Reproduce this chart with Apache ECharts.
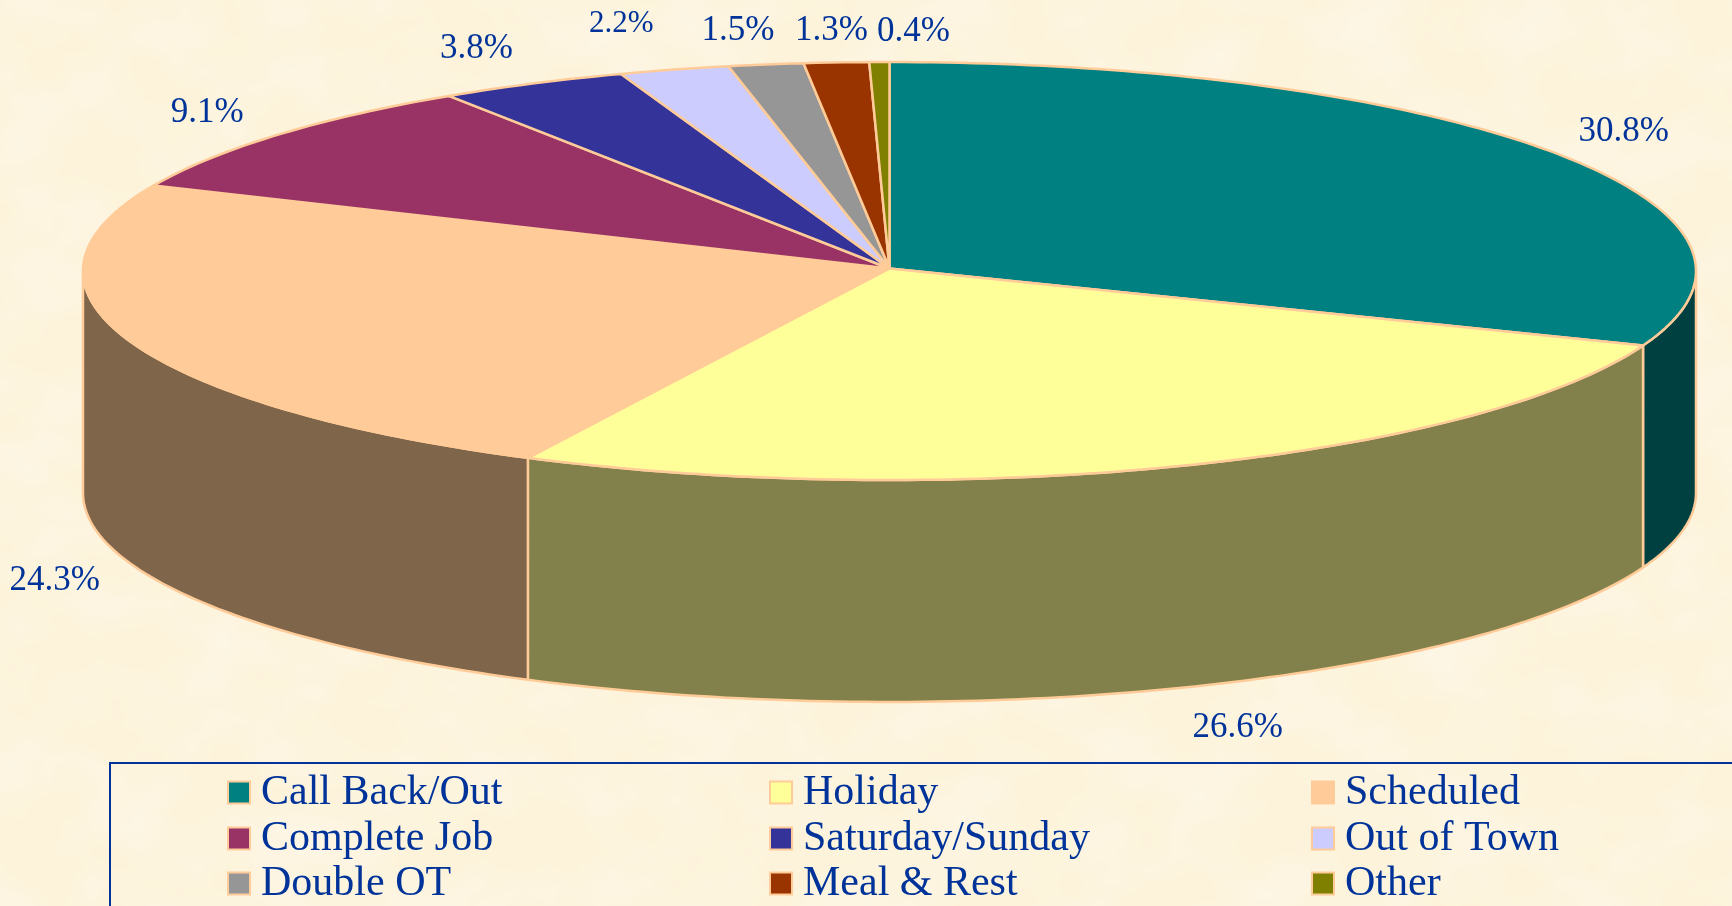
<!DOCTYPE html>
<html>
<head>
<meta charset="utf-8">
<title>Overtime by type</title>
<script src="https://cdn.jsdelivr.net/npm/echarts@6/dist/echarts.min.js"></script>
<style>
  html, body { margin: 0; padding: 0; background-color: #fdf3da; }
  #bg { position: absolute; left: 0; top: 0; width: 1732px; height: 906px; }
  #myChart { position: absolute; left: 0; top: 0; width: 1732px; height: 906px; }
</style>
</head>
<body>
<!-- mottled paper look of the slide background -->
<svg id="bg" xmlns="http://www.w3.org/2000/svg">
  <filter id="paper" x="0" y="0" width="100%" height="100%">
    <feTurbulence type="fractalNoise" baseFrequency="0.012 0.016" numOctaves="3" seed="7"/>
    <feColorMatrix type="matrix" values="0 0 0 0 0.99  0 0 0 0 0.95  0 0 0 0 0.88  0.9 0 0 0 -0.3"/>
  </filter>
  <rect width="1732" height="906" fill="#fdf3da"/>
  <rect width="1732" height="906" filter="url(#paper)"/>
</svg>
<div id="myChart"></div>
<script>
const categories = ['Call Back/Out', 'Holiday', 'Scheduled', 'Complete Job', 'Saturday/Sunday', 'Out of Town', 'Double OT', 'Meal & Rest', 'Other'];
const shares = [30.8, 26.6, 24.3, 9.1, 3.8, 2.2, 1.5, 1.3, 0.4];

const topColors = ['#008080', '#ffff99', '#ffcc99', '#993366', '#333399', '#ccccff', '#969696', '#993300', '#808000'];
const wallColors = ['#004040', '#82804b', '#7f654a', '#4d1a33', '#1a1a4d', '#666680', '#4b4b4b', '#4d1a00', '#404000'];
const edgeColor = '#ffcc99';
const textColor = '#003399';

// label offset from the middle of the slice's rim, in px
const labelOffsets = [[70, -21], [56, 262], [-75, 240], [-69, -22], [-56, -35], [-53, -46], [-28, -34], [-5, -32], [34, -30]];
const labelSizes = [35, 35, 35, 35, 35, 31, 35, 35, 35];

// legend grid: 3 columns, rows are not evenly spaced in the original
const legendColumns = [227, 769, 1311];
const legendRows = [792, 838, 883];

// unit circle on the axes becomes the ellipse, y below -1 is the side wall
const wallDepth = 1.062;
const apexY = 0.012;

function rim(deg, drop) {
  const a = deg * Math.PI / 180;
  return [Math.sin(a), Math.cos(a) - (drop || 0)];
}

function arc(from, to, drop) {
  const pts = [];
  const steps = Math.max(2, Math.ceil(Math.abs(to - from)));
  for (let i = 0; i <= steps; i++) {
    pts.push(rim(from + (to - from) * i / steps, drop));
  }
  return pts;
}

function renderSlice(params, api) {
  const i = params.seriesIndex;
  const share = api.value(2);
  const before = shares.slice(0, i).reduce((a, b) => a + b, 0);
  const start = before * 3.6;
  const end = (before + share) * 3.6;
  const children = [];

  // only the front half of the wall can be seen
  const wallStart = Math.max(start, 90);
  const wallEnd = Math.min(end, 270);
  if (wallEnd > wallStart) {
    const wall = arc(wallStart, wallEnd, 0).concat(arc(wallEnd, wallStart, wallDepth));
    children.push({
      type: 'polygon',
      z2: 1,
      shape: { points: wall.map(p => api.coord(p)) },
      style: { fill: wallColors[i], stroke: edgeColor, lineWidth: 2.5 }
    });
  }

  const top = [[0, apexY]].concat(arc(start, end, 0));
  children.push({
    type: 'polygon',
    z2: 5,
    shape: { points: top.map(p => api.coord(p)) },
    style: { fill: topColors[i], stroke: edgeColor, lineWidth: 2.5, lineJoin: 'round' }
  });

  const mid = api.coord(rim((start + end) / 2, 0));
  children.push({
    type: 'text',
    z2: 10,
    style: {
      text: share.toFixed(1) + '%',
      x: mid[0] + labelOffsets[i][0],
      y: mid[1] + labelOffsets[i][1],
      fill: textColor,
      font: labelSizes[i] + 'px "Liberation Serif"',
      align: 'center',
      verticalAlign: 'middle'
    }
  });

  return { type: 'group', children: children };
}

let myChart = echarts.init(document.getElementById('myChart'), null, { renderer: 'canvas' });

myChart.setOption({
  backgroundColor: 'transparent',
  animation: false,
  grid: { left: 83, top: 62, width: 1613, height: 209 * (2 + wallDepth), containLabel: false },
  xAxis: { type: 'value', min: -1, max: 1, show: false },
  yAxis: { type: 'value', min: -1 - wallDepth, max: 1, show: false },
  graphic: [{
    type: 'rect',
    silent: true,
    shape: { x: 110, y: 763, width: 1700, height: 200 },
    style: { fill: 'none', stroke: textColor, lineWidth: 2 }
  }],
  legend: categories.map((name, i) => ({
    data: [name],
    icon: 'rect',
    selectedMode: false,
    orient: 'horizontal',
    left: legendColumns[i % 3],
    top: legendRows[Math.floor(i / 3)] - 23,
    padding: 0,
    itemWidth: 22,
    itemHeight: 22,
    textStyle: {
      color: textColor,
      fontFamily: 'Liberation Serif',
      fontSize: 42,
      lineHeight: 44,
      padding: [3, 0, 0, 6]
    }
  })),
  series: categories.map((name, i) => ({
    type: 'custom',
    name: name,
    coordinateSystem: 'cartesian2d',
    silent: true,
    renderItem: renderSlice,
    itemStyle: { color: topColors[i], borderColor: edgeColor, borderWidth: 2 },
    encode: { x: 0, y: 1 },
    data: [[0, 0, shares[i]]]
  }))
});
</script>
</body>
</html>
